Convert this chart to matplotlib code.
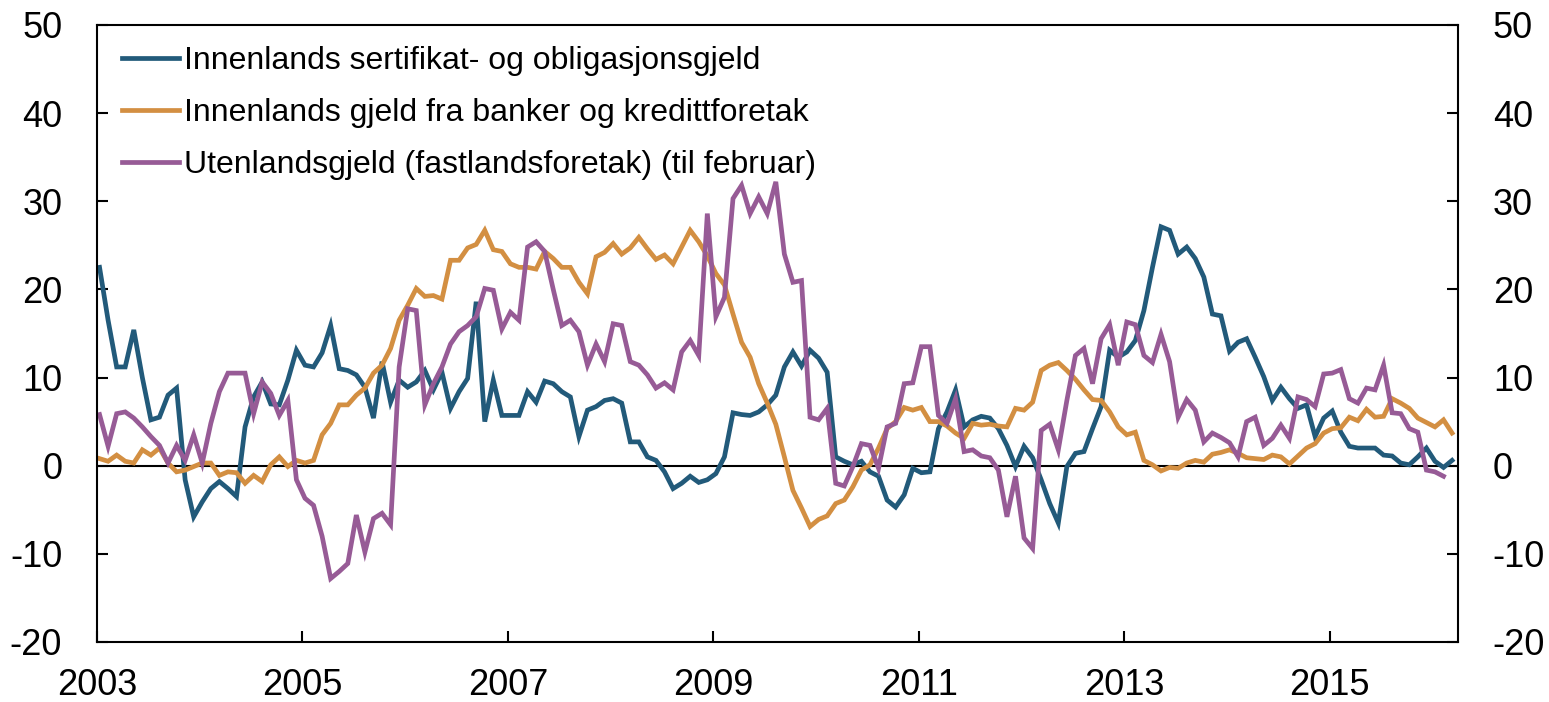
import numpy as np
import matplotlib
matplotlib.use('Agg')
import matplotlib.pyplot as plt

plt.rcParams['font.family'] = ['Liberation Sans', 'DejaVu Sans']
plt.rcParams['axes.unicode_minus'] = False

# Tolvmånedersvekst, prosent. Månedlige observasjoner fra januar 2003
sertifikat = [
    22.5, 16.5, 11.2, 11.2, 15.4, 10.0, 5.2, 5.5, 8.0, 8.8, -1.6, -5.8,
    -4.1, -2.6, -1.8, -2.6, -3.5, 4.4, 7.8, 9.5, 7.0, 6.9, 9.7, 13.1,
    11.4, 11.2, 12.8, 15.9, 11.0, 10.8, 10.3, 8.9, 5.4, 11.8, 7.2, 9.7,
    8.9, 9.5, 10.8, 8.6, 10.6, 6.5, 8.4, 9.9, 18.6, 5.0, 9.7, 5.7,
    5.7, 5.7, 8.4, 7.2, 9.6, 9.3, 8.4, 7.8, 3.3, 6.3, 6.7, 7.4,
    7.6, 7.1, 2.7, 2.7, 1.0, 0.6, -0.7, -2.6, -2.0, -1.2, -1.9, -1.6,
    -0.9, 1.0, 6.0, 5.8, 5.7, 6.1, 6.9, 8.0, 11.2, 12.9, 11.3, 13.1,
    12.2, 10.6, 1.0, 0.5, 0.1, 0.5, -0.7, -1.2, -3.9, -4.7, -3.3, -0.3,
    -0.8, -0.7, 4.2, 6.1, 8.6, 4.4, 5.2, 5.6, 5.4, 4.2, 2.3, -0.1,
    2.2, 0.9, -1.6, -4.3, -6.5, -0.1, 1.4, 1.6, 4.2, 6.7, 13.1, 12.3,
    12.9, 14.2, 17.6, 22.5, 27.1, 26.7, 24.0, 24.8, 23.5, 21.4, 17.2, 17.0,
    13.0, 14.0, 14.4, 12.3, 10.1, 7.4, 8.9, 7.6, 6.5, 6.9, 3.3, 5.4,
    6.2, 3.8, 2.2, 2.0, 2.0, 2.0, 1.2, 1.1, 0.3, 0.1, 1.0, 2.0,
    0.5, -0.2, 0.6,
]

banker = [
    0.8, 0.5, 1.2, 0.5, 0.3, 1.8, 1.2, 2.0, 0.3, -0.7, -0.5, -0.1,
    0.3, 0.3, -1.1, -0.7, -0.8, -2.0, -1.1, -1.8, 0.1, 1.0, -0.1, 0.6,
    0.3, 0.6, 3.5, 4.8, 6.9, 6.9, 8.0, 8.8, 10.5, 11.4, 13.3, 16.5,
    18.2, 20.1, 19.2, 19.3, 18.9, 23.3, 23.3, 24.7, 25.1, 26.7, 24.5, 24.3,
    22.9, 22.5, 22.5, 22.3, 24.3, 23.5, 22.5, 22.5, 20.8, 19.5, 23.7, 24.2,
    25.2, 24.0, 24.7, 25.9, 24.6, 23.4, 23.9, 22.9, 24.8, 26.7, 25.4, 23.8,
    21.8, 20.5, 17.2, 14.0, 12.3, 9.3, 7.1, 4.7, 1.0, -2.8, -4.8, -6.9,
    -6.1, -5.7, -4.3, -3.9, -2.4, -0.5, 0.1, 2.0, 4.2, 5.0, 6.6, 6.3,
    6.6, 5.0, 5.0, 4.5, 3.7, 3.1, 4.8, 4.6, 4.7, 4.5, 4.4, 6.5,
    6.3, 7.2, 10.8, 11.4, 11.7, 10.8, 9.8, 8.6, 7.5, 7.4, 6.1, 4.4,
    3.5, 3.8, 0.6, 0.1, -0.6, -0.2, -0.3, 0.3, 0.6, 0.4, 1.3, 1.5,
    1.8, 1.4, 0.9, 0.8, 0.7, 1.2, 1.0, 0.2, 1.1, 2.0, 2.5, 3.7,
    4.2, 4.3, 5.5, 5.1, 6.4, 5.5, 5.6, 7.6, 7.1, 6.5, 5.4, 4.9,
    4.4, 5.2, 3.7,
]

utenlands = [
    5.8, 2.2, 5.9, 6.1, 5.4, 4.4, 3.3, 2.3, 0.3, 2.3, 0.6, 3.5,
    0.3, 4.8, 8.4, 10.5, 10.5, 10.5, 5.9, 9.5, 8.2, 5.7, 7.4, -1.6,
    -3.7, -4.5, -8.0, -12.8, -12.0, -11.1, -5.6, -9.8, -6.0, -5.4, -6.7, 11.2,
    17.8, 17.6, 6.9, 9.3, 11.2, 13.8, 15.2, 15.9, 16.9, 20.1, 19.9, 15.5,
    17.4, 16.5, 24.8, 25.4, 24.3, 20.0, 15.9, 16.5, 15.2, 11.4, 13.8, 11.8,
    16.1, 15.9, 11.8, 11.4, 10.3, 8.8, 9.4, 8.6, 12.9, 14.2, 12.5, 28.6,
    16.9, 19.1, 30.3, 31.8, 28.6, 30.5, 28.6, 32.2, 24.0, 20.8, 21.0, 5.5,
    5.2, 6.5, -2.0, -2.3, -0.1, 2.5, 2.3, -0.3, 4.4, 4.8, 9.3, 9.4,
    13.5, 13.5, 5.7, 4.8, 7.6, 1.6, 1.8, 1.1, 0.9, -0.5, -5.8, -1.2,
    -8.2, -9.4, 4.0, 4.7, 1.8, 7.4, 12.5, 13.3, 9.3, 14.4, 16.0, 11.4,
    16.3, 16.0, 12.5, 11.7, 14.9, 11.8, 5.5, 7.5, 6.3, 2.7, 3.7, 3.2,
    2.6, 1.0, 5.0, 5.5, 2.3, 3.1, 4.6, 3.1, 7.8, 7.5, 6.7, 10.4,
    10.5, 10.9, 7.6, 7.1, 8.8, 8.6, 11.4, 6.0, 5.9, 4.2, 3.8, -0.5,
    -0.7, -1.2,
]

labels = ['Innenlands sertifikat- og obligasjonsgjeld',
          'Innenlands gjeld fra banker og kredittforetak',
          'Utenlandsgjeld (fastlandsforetak) (til februar)']
farger = ['#225a7a', '#d38f42', '#975b96']
aar_ticks = [2003, 2005, 2007, 2009, 2011, 2013, 2015]

# x-posisjon: desimalår, midt i måneden
def tid(serie):
    return 2003 + (np.arange(len(serie)) + 0.3) / 12

fig = plt.figure(figsize=(15.49, 7.02), dpi=100)
ax = fig.add_axes([0.0626, 0.0855, 0.8787, 0.879])

for serie, lab, farge in zip([sertifikat, banker, utenlands], labels, farger):
    ax.plot(tid(serie), serie, color=farge, lw=3.4, label=lab, solid_joinstyle='miter')

ax.axhline(0, color='black', lw=1.5, zorder=1)

ax.set_xlim(2003, 2016.25)
ax.set_ylim(-20, 50)
ax.set_xticks(aar_ticks)
ax.set_xticklabels([str(a) for a in aar_ticks])
ax.set_yticks(range(-20, 51, 10))

ax.tick_params(axis='both', direction='in', labelsize=26, width=1.5, length=8)
ax.tick_params(axis='y', right=True, labelright=True, pad=25)
ax.tick_params(axis='x', pad=19)
for s in ax.spines.values():
    s.set_linewidth(1.5)

ax.legend(loc='upper left', frameon=False, fontsize=23, handlelength=1.8,
          handletextpad=0.15, labelspacing=0.69, borderaxespad=0.3,
          bbox_to_anchor=(0.0016, 1.0015))

fig.savefig('out.png', dpi=100)
